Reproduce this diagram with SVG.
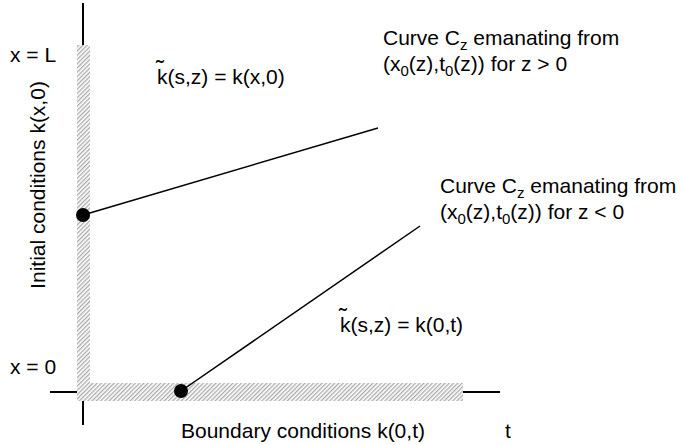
<svg xmlns="http://www.w3.org/2000/svg" width="682" height="445" viewBox="0 0 682 445">
<style>
text{font-family:"Liberation Sans",Arial,sans-serif;font-size:21px;fill:#000}
.ax{stroke:#000;stroke-width:2;fill:none}
.cn{stroke:#000;stroke-width:1.5;fill:none}
.sub{font-size:15px}
.tl{font-size:24px}
</style>
<defs>
<pattern id="hatch" width="3" height="3" patternUnits="userSpaceOnUse" patternTransform="rotate(45)">
<rect width="3" height="3" fill="#fff"/>
<rect width="1.3" height="3" fill="#aaa"/>
</pattern>
</defs>
<g id="axes">
<line class="ax" x1="83" y1="3" x2="83" y2="45"/>
<line class="ax" x1="83" y1="401" x2="83" y2="425"/>
<line class="ax" x1="50" y1="392" x2="77" y2="392"/>
<line class="ax" x1="463" y1="392" x2="500" y2="392"/>
</g>
<g id="initial-band"><rect x="77" y="45" width="13" height="356" fill="url(#hatch)"/></g>
<g id="boundary-band"><rect x="77" y="383" width="386" height="18" fill="url(#hatch)"/></g>
<g id="connectors">
<line class="cn" x1="83" y1="215" x2="378" y2="128"/>
<line class="cn" x1="181" y1="391" x2="420" y2="226"/>
</g>
<g id="dot1"><circle cx="83" cy="215" r="7" fill="#000"/></g>
<g id="dot2"><circle cx="181" cy="391" r="7" fill="#000"/></g>
<g id="labels">
<text x="10" y="62">x = L</text>
<text x="10" y="374">x = 0</text>
<text transform="translate(45,185) rotate(-90)" text-anchor="middle">Initial conditions k(x,0)</text>
<text x="157" y="84"><tspan class="tl" x="156" dy="-7">˜</tspan><tspan x="157" dy="7">k(s,z) = k(x,0)</tspan></text>
<text x="383" y="45">Curve C<tspan class="sub" dy="5">z</tspan><tspan dy="-5"> emanating from</tspan></text>
<text x="383" y="71">(x<tspan class="sub" dy="5">0</tspan><tspan dy="-5">(z),t</tspan><tspan class="sub" dy="5">0</tspan><tspan dy="-5">(z)) for z &gt; 0</tspan></text>
<text x="440" y="193">Curve C<tspan class="sub" dy="5">z</tspan><tspan dy="-5"> emanating from</tspan></text>
<text x="440" y="219">(x<tspan class="sub" dy="5">0</tspan><tspan dy="-5">(z),t</tspan><tspan class="sub" dy="5">0</tspan><tspan dy="-5">(z)) for z &lt; 0</tspan></text>
<text x="340" y="332"><tspan class="tl" x="339" dy="-7">˜</tspan><tspan x="340" dy="7">k(s,z) = k(0,t)</tspan></text>
<text x="181" y="438">Boundary conditions k(0,t)</text>
<text x="505" y="438">t</text>
</g>
</svg>
